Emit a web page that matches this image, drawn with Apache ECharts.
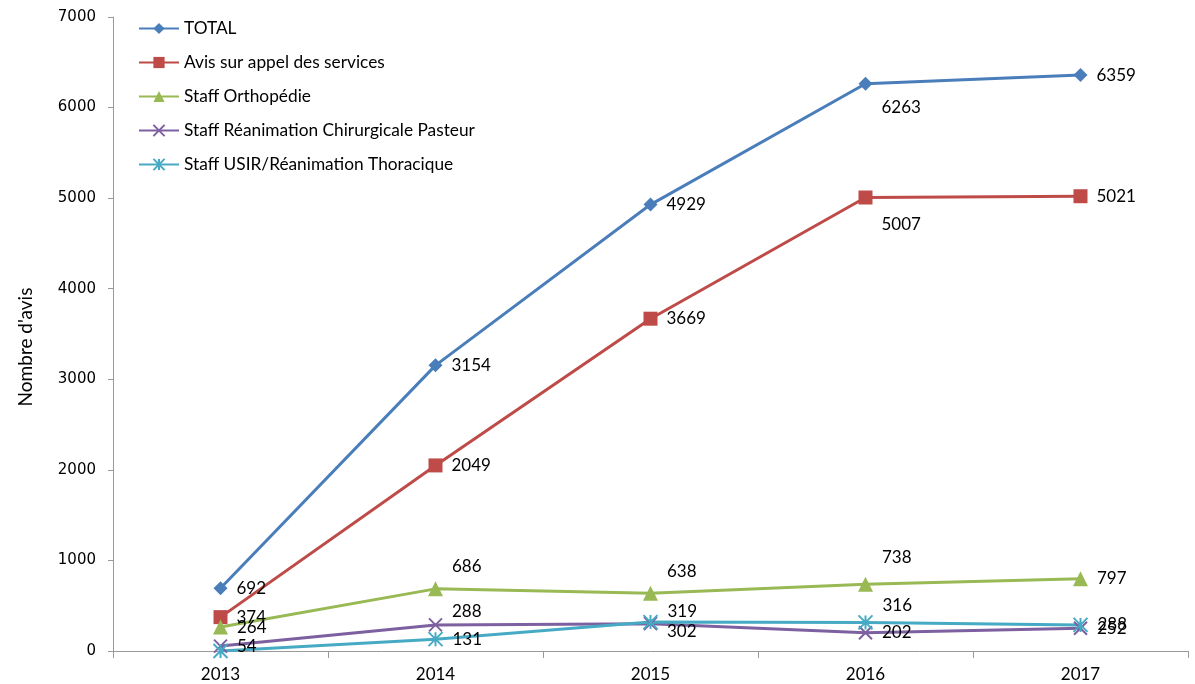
<!DOCTYPE html>
<html>
<head>
<meta charset="utf-8">
<script src="https://cdn.jsdelivr.net/npm/echarts@6/dist/echarts.min.js"></script>
<style>
  html, body { margin: 0; padding: 0; background: #fff; }
  #chart { width: 1195px; height: 684px; }
</style>
</head>
<body>
<div id="chart"></div>
<script>
// Years on the category axis
const years = ['2013', '2014', '2015', '2016', '2017'];

// Number of opinions per year, by source
const total = [692, 3154, 4929, 6263, 6359];
const avisServices = [374, 2049, 3669, 5007, 5021];
const staffOrtho = [264, 686, 638, 738, 797];
const staffReaPasteur = [54, 288, 302, 202, 252];
const staffUsir = [0, 131, 319, 316, 288];

// Value axis ticks
const yTicks = [0, 1000, 2000, 3000, 4000, 5000, 6000, 7000];

// Vertical nudge (px) of each value label beside its point; null hides the label
const labelShift = {
  total: [0, 0, 0, 24, 0],
  avis: [0, 0, 0, 27, 0],
  ortho: [0, -22, -22, -27, 0],
  pasteur: [0, -13, 8, 0, 0],
  usir: [null, 0, -11, -17, 0]
};

const FONT = 'Lato, "Open Sans", sans-serif';

function pointData(values, shifts) {
  return values.map((v, i) => {
    const dy = shifts[i];
    const item = { value: v };
    if (dy === null) {
      item.label = { show: false };
    } else if (dy !== 0) {
      item.label = { offset: [0, dy] };
    }
    return item;
  });
}

function lineSeries(name, values, shifts, color, symbol, symbolSize, stroke) {
  return {
    name: name,
    type: 'line',
    data: pointData(values, shifts),
    symbol: symbol,
    symbolSize: symbolSize,
    lineStyle: { color: color, width: 3 },
    itemStyle: stroke
      ? { color: color, borderColor: color, borderWidth: 2 }
      : { color: color },
    label: {
      show: true,
      position: 'right',
      distance: 9,
      color: '#000',
      fontSize: 17,
      fontFamily: FONT
    },
    emphasis: { disabled: true },
    animation: false
  };
}

const crossPath = 'path://M0,0 L10,10 M10,0 L0,10';
const starPath = 'path://M5,0 L5,10 M0,0 L10,10 M10,0 L0,10';

const chart = echarts.init(document.getElementById('chart'), null, { renderer: 'canvas' });

chart.setOption({
  backgroundColor: '#fff',
  animation: false,
  grid: { left: 113, right: 7, top: 17, bottom: 33, containLabel: false },
  legend: {
    orient: 'vertical',
    left: 133,
    top: 15,
    itemGap: 17,
    itemWidth: 40,
    itemHeight: 14,
    textStyle: { fontFamily: FONT, fontSize: 17.3, color: '#000' },
    data: [
      'TOTAL',
      'Avis sur appel des services',
      'Staff Orthopédie',
      'Staff Réanimation Chirurgicale Pasteur',
      'Staff USIR/Réanimation Thoracique'
    ]
  },
  graphic: [{
    type: 'text',
    x: 26,
    y: 347,
    rotation: Math.PI / 2,
    style: {
      text: "Nombre d'avis",
      fill: '#000',
      font: '19px ' + FONT,
      align: 'center',
      verticalAlign: 'middle'
    }
  }],
  xAxis: {
    type: 'category',
    data: years,
    boundaryGap: true,
    axisLine: { lineStyle: { color: '#9a9a9a', width: 1 } },
    axisTick: { show: true, length: 7, lineStyle: { color: '#9a9a9a' } },
    axisLabel: { color: '#000', fontSize: 17, fontFamily: FONT, margin: 15 },
    splitLine: { show: false }
  },
  yAxis: {
    type: 'value',
    min: yTicks[0],
    max: yTicks[yTicks.length - 1],
    interval: yTicks[1] - yTicks[0],
    axisLine: { show: true, lineStyle: { color: '#9a9a9a', width: 1 } },
    axisTick: { show: true, length: 5, lineStyle: { color: '#9a9a9a' } },
    axisLabel: {
      color: '#000',
      fontSize: 15,
      fontFamily: '"DejaVu Sans", sans-serif',
      margin: 17,
      formatter: (v) => String(v)
    },
    splitLine: { show: false }
  },
  series: [
    lineSeries('TOTAL', total, labelShift.total, '#4a7ebb', 'diamond', 14, false),
    lineSeries('Avis sur appel des services', avisServices, labelShift.avis, '#be4b48', 'rect', 14, false),
    lineSeries('Staff Orthopédie', staffOrtho, labelShift.ortho, '#98b954', 'triangle', 15, false),
    lineSeries('Staff Réanimation Chirurgicale Pasteur', staffReaPasteur, labelShift.pasteur, '#7d60a0', crossPath, 13, true),
    lineSeries('Staff USIR/Réanimation Thoracique', staffUsir, labelShift.usir, '#46aac5', starPath, 14, true)
  ]
});
</script>
</body>
</html>
